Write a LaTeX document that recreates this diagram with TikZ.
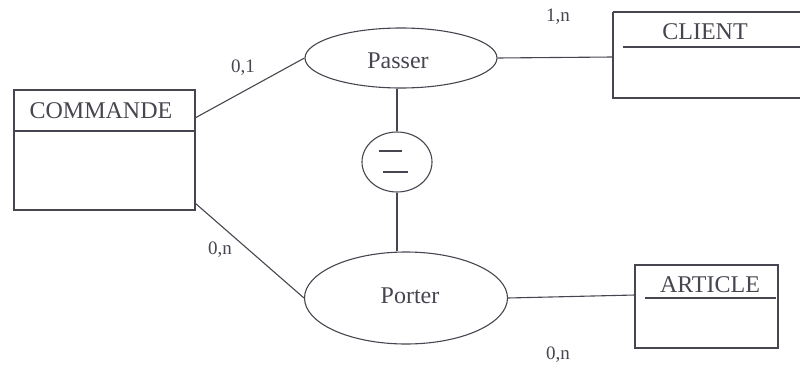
\documentclass[tikz,border=0pt]{standalone}
\usepackage{fontspec}
\setmainfont{Liberation Serif}
\usetikzlibrary{shapes.geometric}
\definecolor{ink}{RGB}{70,70,80}
\begin{document}
\begin{tikzpicture}[x=1pt,y=-1pt,
  line/.style={draw=ink,line width=1.1pt},
  assoc/.style={ellipse,draw=ink,line width=1.1pt,inner sep=0pt},
  title/.style={font=\fontsize{24}{28}\selectfont,text=ink},
  card/.style={font=\fontsize{19}{22}\selectfont,text=ink}]
\useasboundingbox (0,0) rectangle (800,369);
% entities
\draw[line] (14,90) rectangle (195,210);
\draw[line] (14,131) -- (195,131);
\node[title] (tcmd) at (101,111) {COMMANDE};
\coordinate (cmd1) at (195,118);
\coordinate (cmd2) at (195,203);
\draw[line] (613,12) -- (800,12);
\draw[line] (613,12) -- (613,98) -- (800,98);
\draw[line] (623,47) -- (800,47);
\node[title] (tcli) at (705,32) {CLIENT};
\coordinate (cli) at (613,57);
\draw[line] (635,265) rectangle (778,348);
\draw[line] (645,298) -- (776,298);
\node[title] (tart) at (710,285) {ARTICLE};
\coordinate (art) at (635,295);
% associations
\node[assoc,minimum width=192pt,minimum height=60pt] (passer) at (401,58) {};
\node[title] at (398,61) {Passer};
\node[assoc,minimum width=203pt,minimum height=92pt] (porter) at (406,298) {};
\node[title] at (410,296) {Porter};
\node[assoc,minimum width=70pt,minimum height=60pt] (eq) at (397,162) {};
\draw[line] (379,151) -- (402,151);
\draw[line] (383,172) -- (408,172);
% connectors
\draw[line] (cmd1) -- (passer.west);
\draw[line] (cmd2) -- (porter.west);
\draw[line] (passer.east) -- (cli);
\draw[line] (porter.east) -- (art);
\draw[line] (eq.north |- passer.south) -- (eq.north);
\draw[line] (eq.south) -- (eq.south |- porter.north);
% cardinalities
\node[card] (c1) at (243,68) {0,1};
\node[card] (c2) at (220,250) {0,n};
\node[card] (c3) at (558,17) {1,n};
\node[card] (c4) at (558,355) {0,n};
\end{tikzpicture}
\end{document}
